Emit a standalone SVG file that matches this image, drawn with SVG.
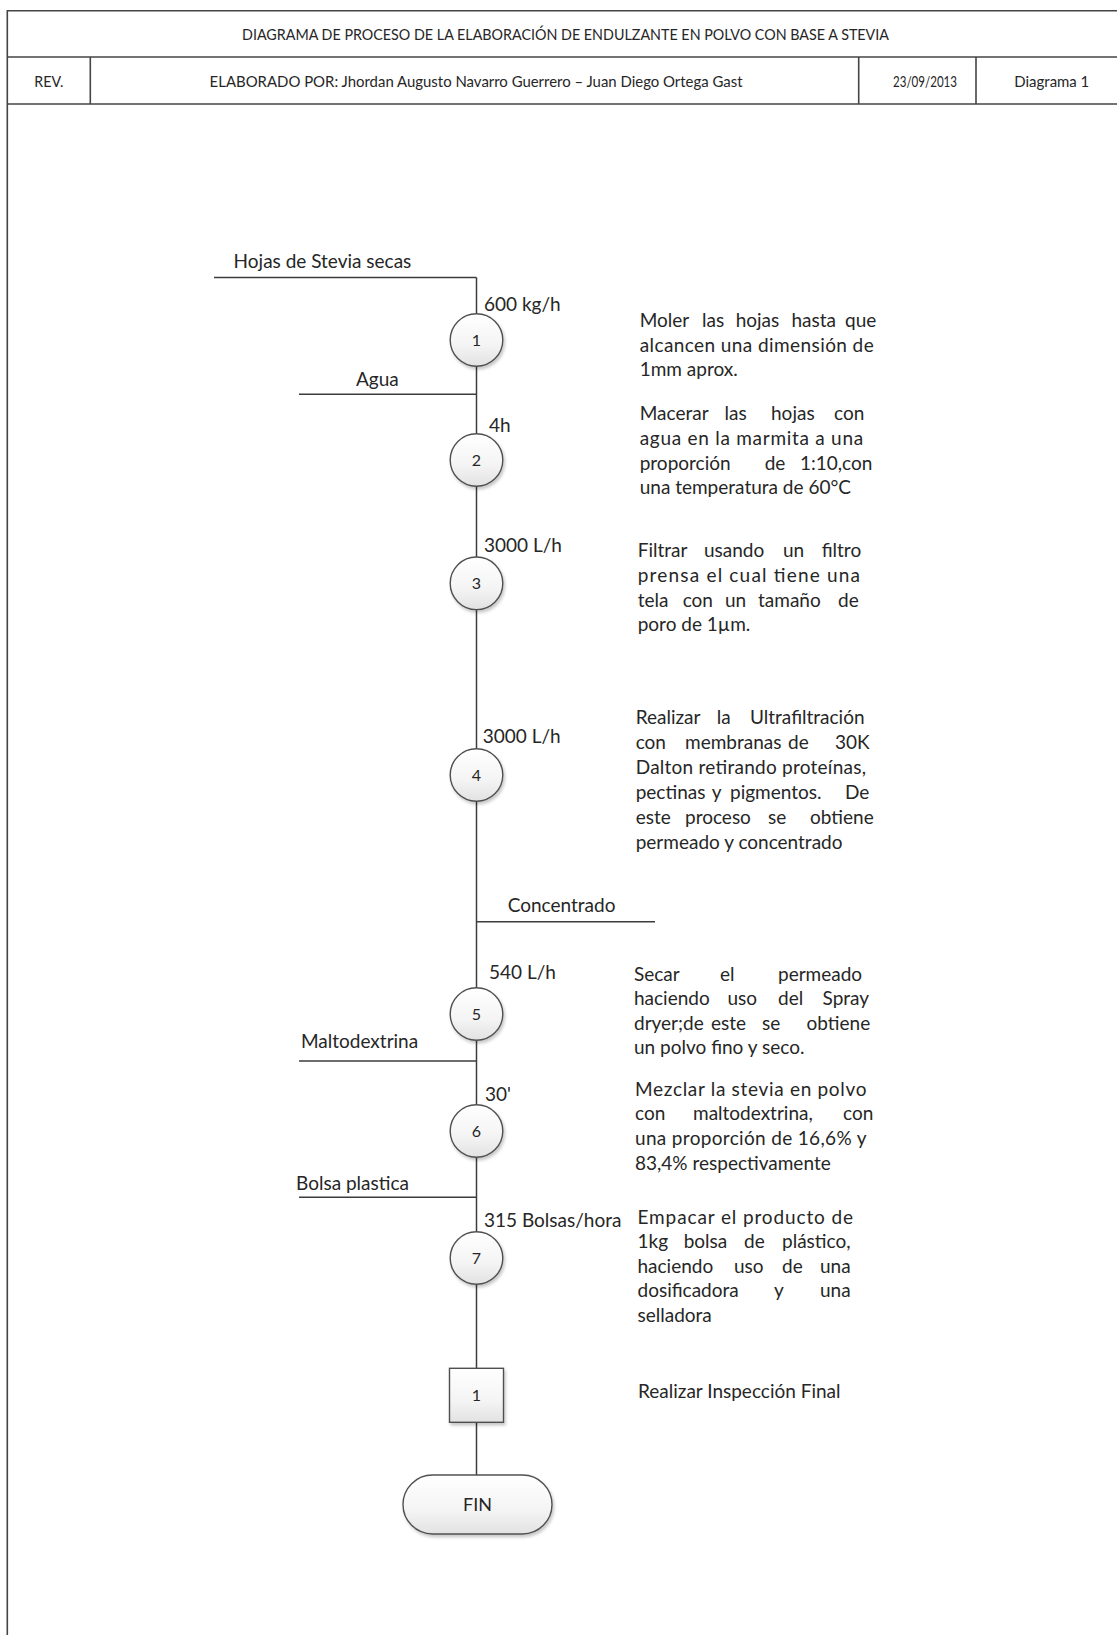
<svg xmlns="http://www.w3.org/2000/svg" width="1117" height="1635" viewBox="0 0 1117 1635">
<defs>
<linearGradient id="g" x1="0" y1="0" x2="0" y2="1">
<stop offset="0" stop-color="#ffffff"/>
<stop offset="0.6" stop-color="#f4f4f4"/>
<stop offset="1" stop-color="#e2e2e2"/>
</linearGradient>
<filter id="sh" x="-30%" y="-30%" width="160%" height="170%">
<feDropShadow dx="1.5" dy="2.5" stdDeviation="1.6" flood-color="#000" flood-opacity="0.22"/>
</filter>
</defs>
<style>
text{font-family:Lato,"Liberation Sans",sans-serif;fill:#262626}
.hd{font-size:14.5px}
.hd2{font-size:15px}
.lb{font-size:19px}
.p{font-size:19px}
.num{font-size:16px;text-anchor:middle}
.ln{stroke:#3c3c3c;stroke-width:1.5;fill:none}
.fr{stroke:#444;stroke-width:1.6;fill:none}
.nd{fill:url(#g);stroke:#505050;stroke-width:1.4;filter:url(#sh)}
</style>
<rect x="0" y="0" width="1117" height="1635" fill="#fff"/>

<g id="frame">
<line class="fr" x1="7.3" y1="10.7" x2="1117" y2="10.7"/>
<line class="fr" x1="7.3" y1="57" x2="1117" y2="57"/>
<line class="fr" x1="7.3" y1="104" x2="1117" y2="104"/>
<line class="fr" x1="7.3" y1="10" x2="7.3" y2="1635"/>
<line class="fr" x1="90.3" y1="57" x2="90.3" y2="104"/>
<line class="fr" x1="858.7" y1="57" x2="858.7" y2="104"/>
<line class="fr" x1="976" y1="57" x2="976" y2="104"/>
<text class="hd" x="242" y="39.5" textLength="647" lengthAdjust="spacingAndGlyphs">DIAGRAMA DE PROCESO DE LA ELABORACIÓN DE ENDULZANTE EN POLVO CON BASE A STEVIA</text>
<text class="hd2" x="34.3" y="87" textLength="29" lengthAdjust="spacingAndGlyphs">REV.</text>
<text class="hd2" x="209.6" y="87" textLength="533" lengthAdjust="spacingAndGlyphs">ELABORADO POR: Jhordan Augusto Navarro Guerrero – Juan Diego Ortega Gast</text>
<text class="hd2" x="893" y="87" textLength="64" lengthAdjust="spacingAndGlyphs">23/09/2013</text>
<text class="hd2" x="1014.3" y="87" textLength="75" lengthAdjust="spacingAndGlyphs">Diagrama 1</text>
</g>

<g id="connectors">
<line class="ln" x1="476.5" y1="277.4" x2="476.5" y2="1475"/>
<line class="ln" x1="214" y1="277.4" x2="476.5" y2="277.4"/>
<line class="ln" x1="299" y1="394.3" x2="476.5" y2="394.3"/>
<line class="ln" x1="476.5" y1="921.7" x2="655" y2="921.7"/>
<line class="ln" x1="299" y1="1061" x2="476.5" y2="1061"/>
<line class="ln" x1="299" y1="1197.3" x2="476.5" y2="1197.3"/>
</g>

<g id="flow-labels">
<text class="lb" x="233.6" y="267.5">Hojas de Stevia secas</text>
<text class="lb" x="356" y="386">Agua</text>
<text class="lb" x="484" y="311">600 kg/h</text>
<text class="lb" x="489" y="432">4h</text>
<text class="lb" x="484" y="551.7">3000 L/h</text>
<text class="lb" x="482.7" y="743">3000 L/h</text>
<text class="lb" x="507.7" y="911.7">Concentrado</text>
<text class="lb" x="489" y="979">540 L/h</text>
<text class="lb" x="301" y="1048">Maltodextrina</text>
<text class="lb" x="485" y="1101">30'</text>
<text class="lb" x="296" y="1190">Bolsa plastica</text>
<text class="lb" x="484" y="1226.7">315 Bolsas/hora</text>
</g>

<g id="op1"><circle class="nd" cx="476.5" cy="340" r="26.3"/><text class="num" x="476.5" y="345.8">1</text></g>
<g id="op2"><circle class="nd" cx="476.5" cy="460" r="26.3"/><text class="num" x="476.5" y="465.8">2</text></g>
<g id="op3"><circle class="nd" cx="476.5" cy="583.3" r="26.3"/><text class="num" x="476.5" y="589.1">3</text></g>
<g id="op4"><circle class="nd" cx="476.5" cy="775" r="26.3"/><text class="num" x="476.5" y="780.8">4</text></g>
<g id="op5"><circle class="nd" cx="476.5" cy="1014" r="26.3"/><text class="num" x="476.5" y="1019.8">5</text></g>
<g id="op6"><circle class="nd" cx="476.5" cy="1131" r="26.3"/><text class="num" x="476.5" y="1136.8">6</text></g>
<g id="op7"><circle class="nd" cx="476.5" cy="1258" r="26.3"/><text class="num" x="476.5" y="1263.8">7</text></g>
<g id="insp1"><rect class="nd" x="449.5" y="1368.3" width="54" height="54"/><text class="num" x="476.5" y="1401">1</text></g>
<g id="fin"><rect class="nd" x="403" y="1475" width="149" height="59" rx="29.5" ry="29.5"/><text class="num" x="477.5" y="1511" style="font-size:18px">FIN</text></g>

<g id="desc1" class="p">
<text y="327"><tspan x="639.7">Moler</tspan><tspan x="702">las</tspan><tspan x="735.7">hojas</tspan><tspan x="791.5">hasta</tspan><tspan x="845">que</tspan></text>
<text x="639.7" y="351.5" textLength="234" lengthAdjust="spacing">alcancen una dimensión de</text>
<text x="639.7" y="376">1mm aprox.</text>
</g>
<g id="desc2" class="p">
<text y="420"><tspan x="639.7">Macerar</tspan><tspan x="724.6">las</tspan><tspan x="771">hojas</tspan><tspan x="834">con</tspan></text>
<text x="639.7" y="445" textLength="223.5" lengthAdjust="spacing">agua en la marmita a una</text>
<text y="469.5"><tspan x="639.7">proporción</tspan><tspan x="764.7">de</tspan><tspan x="800">1:10,con</tspan></text>
<text x="639.7" y="494">una temperatura de 60°C</text>
</g>
<g id="desc3" class="p">
<text y="557"><tspan x="637.7">Filtrar</tspan><tspan x="704">usando</tspan><tspan x="783">un</tspan><tspan x="821.7">filtro</tspan></text>
<text x="637.7" y="582" textLength="222.3" lengthAdjust="spacing">prensa el cual tiene una</text>
<text y="606.5"><tspan x="637.7">tela</tspan><tspan x="682.7">con</tspan><tspan x="725">un</tspan><tspan x="758">tamaño</tspan><tspan x="838">de</tspan></text>
<text x="637.7" y="631">poro de 1µm.</text>
</g>
<g id="desc4" class="p">
<text y="724"><tspan x="635.7">Realizar</tspan><tspan x="716.7">la</tspan><tspan x="750">Ultrafiltración</tspan></text>
<text y="749"><tspan x="635.7">con</tspan><tspan x="685">membranas</tspan><tspan x="788">de</tspan><tspan x="835">30K</tspan></text>
<text x="635.7" y="774" textLength="230.3" lengthAdjust="spacing">Dalton retirando proteínas,</text>
<text y="799"><tspan x="635.7">pectinas</tspan><tspan x="711.7">y</tspan><tspan x="730">pigmentos.</tspan><tspan x="845">De</tspan></text>
<text y="824"><tspan x="635.7">este</tspan><tspan x="685">proceso</tspan><tspan x="768">se</tspan><tspan x="810">obtiene</tspan></text>
<text x="635.7" y="849">permeado y concentrado</text>
</g>
<g id="desc5" class="p">
<text y="981"><tspan x="634">Secar</tspan><tspan x="720">el</tspan><tspan x="778">permeado</tspan></text>
<text y="1005"><tspan x="634">haciendo</tspan><tspan x="727.5">uso</tspan><tspan x="778">del</tspan><tspan x="822.6">Spray</tspan></text>
<text y="1030"><tspan x="634">dryer;de</tspan><tspan x="711">este</tspan><tspan x="762">se</tspan><tspan x="806.5">obtiene</tspan></text>
<text x="634" y="1054">un polvo fino y seco.</text>
</g>
<g id="desc6" class="p">
<text x="635" y="1095.5" textLength="231.5" lengthAdjust="spacing">Mezclar la stevia en polvo</text>
<text y="1120"><tspan x="635">con</tspan><tspan x="693">maltodextrina,</tspan><tspan x="843">con</tspan></text>
<text x="635" y="1145" textLength="231.5" lengthAdjust="spacing">una proporción de 16,6% y</text>
<text x="635" y="1169.5">83,4% respectivamente</text>
</g>
<g id="desc7" class="p">
<text x="637.5" y="1223.5" textLength="215.5" lengthAdjust="spacing">Empacar el producto de</text>
<text y="1248"><tspan x="637.5">1kg</tspan><tspan x="683.7">bolsa</tspan><tspan x="744">de</tspan><tspan x="782">plástico,</tspan></text>
<text y="1272.5"><tspan x="637.5">haciendo</tspan><tspan x="734">uso</tspan><tspan x="782">de</tspan><tspan x="820">una</tspan></text>
<text y="1297"><tspan x="637.5">dosificadora</tspan><tspan x="774">y</tspan><tspan x="820">una</tspan></text>
<text x="637.5" y="1321.5">selladora</text>
</g>
<g id="desc8" class="p">
<text x="638" y="1398">Realizar Inspección Final</text>
</g>
</svg>
